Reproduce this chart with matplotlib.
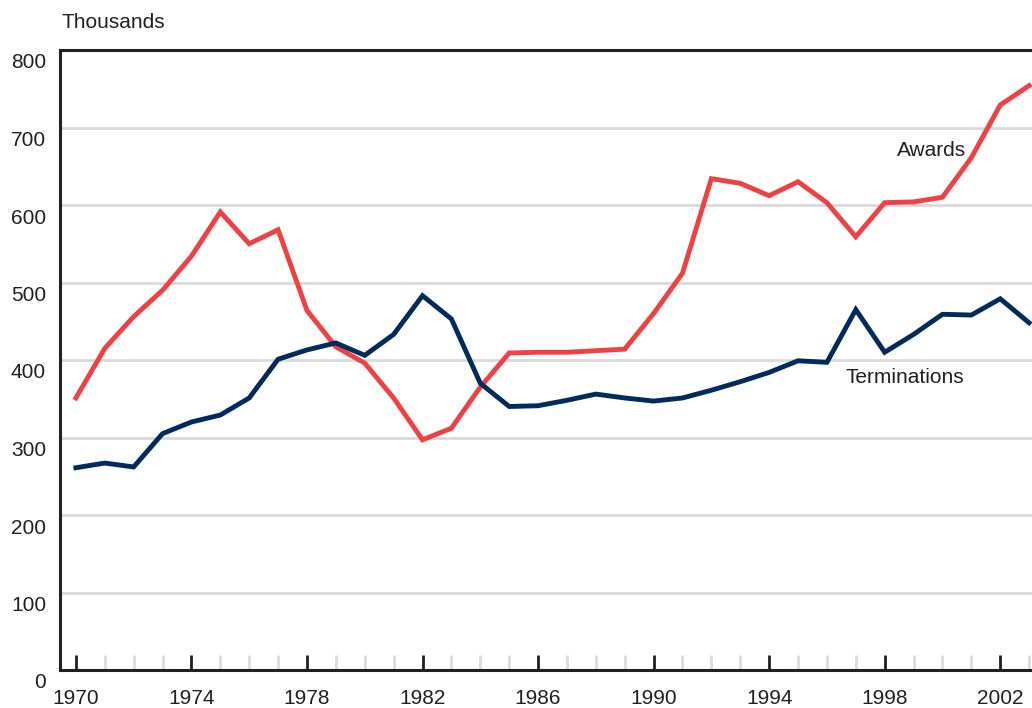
import matplotlib
matplotlib.use("Agg")
import matplotlib.pyplot as plt
import matplotlib.transforms as mtransforms
from matplotlib.ticker import MultipleLocator

plt.rcParams['font.family'] = ['Liberation Sans', 'DejaVu Sans']

# data, thousands
years = list(range(1970, 2004))
awards = [351, 415, 456, 490, 534, 591, 550, 568, 464, 417,
          396, 351, 297, 312, 365, 409, 410, 410, 412, 414,
          460, 512, 634, 628, 612, 630, 603, 559, 603, 604,
          610, 661, 729, 754]
terminations = [261, 267, 262, 305, 320, 329, 351, 401, 413, 422,
                406, 433, 483, 453, 370, 340, 341, 348, 356, 351,
                347, 351, 361, 372, 384, 399, 397, 465, 410, 433,
                459, 458, 479, 448]

RED = "#ef4044"
NAVY = "#002b5c"
TXT = "#231f20"
FS = 15

fig = plt.figure(figsize=(10.32, 7.08), dpi=100)
ax = fig.add_axes([60 / 1032, 1 - 670 / 708, 1 - 60 / 1032, 620 / 708])

ax.plot(years, awards, color=RED, lw=3.5, solid_joinstyle="miter", zorder=3)
ax.plot(years, terminations, color=NAVY, lw=3.5, solid_joinstyle="miter", zorder=3)

ax.set_xlim(1969.45, 2003.1)
ax.set_ylim(0, 800)

# grid
ax.set_yticks(range(0, 801, 100))
for v in range(100, 800, 100):
    ax.axhline(v, color="#d9d9db", lw=2, zorder=1)

for s in ["left", "bottom", "top"]:
    ax.spines[s].set_linewidth(2.2)
    ax.spines[s].set_color(TXT)
ax.spines["right"].set_visible(False)

ax.tick_params(axis="y", length=0, labelsize=FS, pad=10, labelcolor=TXT)
ax.set_yticklabels([str(v) for v in range(0, 801, 100)])
offset = mtransforms.ScaledTranslation(0, -11 / 100, fig.dpi_scale_trans)
for lab in ax.get_yticklabels():
    lab.set_transform(lab.get_transform() + offset)

ax.set_xticks(range(1970, 2003, 4))
ax.xaxis.set_minor_locator(MultipleLocator(1))
ax.tick_params(axis="x", which="major", direction="in", length=11, width=2,
               color=TXT, labelsize=FS, pad=14, labelcolor=TXT)
ax.tick_params(axis="x", which="minor", direction="in", length=11, width=2,
               color="#dcdcdc")

fig.text(62 / 1032, 1 - 23 / 708, "Thousands", fontsize=FS, va="center",
         ha="left", color=TXT)
ax.text(1998.42, 670, "Awards", fontsize=FS, color=TXT, va="center")
ax.text(1996.66, 378, "Terminations", fontsize=FS, color=TXT, va="center")

fig.savefig("out.png", dpi=100)
